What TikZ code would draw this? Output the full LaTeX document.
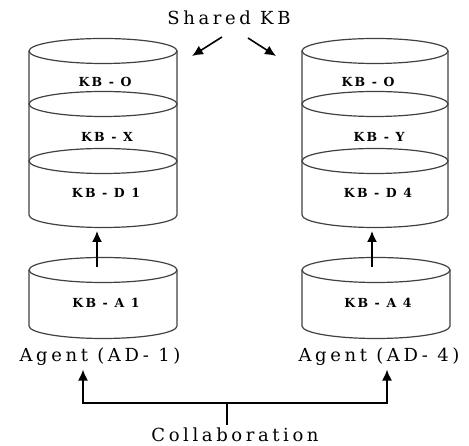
\documentclass[tikz,border=0pt]{standalone}
\usepackage{fontspec}
\setmainfont{DejaVu Serif}[LetterSpace=20]
\newfontfamily\kbfont{DejaVu Serif}[LetterSpace=18]
\usetikzlibrary{arrows.meta,positioning}

\begin{document}
\begin{tikzpicture}[x=1pt,y=1pt,>={Latex[length=11pt,width=10pt]},
    kbline/.style={draw=black!75,line width=1.2pt},
    kblabel/.style={anchor=base,font=\kbfont\fontsize{12.5}{15}\selectfont\bfseries},
    agent/.style={anchor=base,font=\fontsize{18}{22}\selectfont},
    link/.style={->,line width=1.6pt}]

    \useasboundingbox (0,0) rectangle (469,446);

    % left shared stack
    \draw[kbline] (29,395) -- (29,231) arc[start angle=180,end angle=360,x radius=74,y radius=12.5] -- (177,395);
    \foreach \y in {395,342,285}
        \draw[kbline] (103,\y) ellipse[x radius=74,y radius=12.5];

    % right shared stack
    \draw[kbline] (302,395) -- (302,231) arc[start angle=180,end angle=360,x radius=73,y radius=12.5] -- (448,395);
    \foreach \y in {395,342,285}
        \draw[kbline] (375,\y) ellipse[x radius=73,y radius=12.5];

    % agent KBs
    \draw[kbline] (29,176) -- (29,120) arc[start angle=180,end angle=360,x radius=74,y radius=12.5] -- (177,176);
    \draw[kbline] (103,176) ellipse[x radius=74,y radius=12.5];
    \draw[kbline] (302,176) -- (302,120) arc[start angle=180,end angle=360,x radius=74,y radius=12.5] -- (450,176);
    \draw[kbline] (376,176) ellipse[x radius=74,y radius=12.5];

    \node[kblabel] (o1) at (105,359) {KB - O};
    \node[kblabel] (x1) at (107,304) {KB - X};
    \node[kblabel] (d1) at (106,248) {KB - D 1};
    \node[kblabel] (a1) at (106,138) {KB - A 1};

    \node[kblabel] (o4) at (368,359) {KB - O};
    \node[kblabel] (y4) at (379,304) {KB - Y};
    \node[kblabel] (d4) at (378,248) {KB - D 4};
    \node[kblabel] (a4) at (378,138) {KB - A 4};

    \node[agent] (agent1) at (100,84) {Agent (AD- 1)};
    \node[agent] (agent4) at (379,84) {Agent (AD- 4)};
    \node[agent] (shared) at (229,421) {Shared KB};
    \node[agent] (collab) at (235,4) {Collaboration};

    \coordinate (a1top) at (97,179);
    \coordinate (d1bot) at (97,215);
    \coordinate (a4top) at (372,179);
    \coordinate (d4bot) at (372,215);
    \coordinate (hub) at (227,43);

    \draw[link] (a1top) -- (d1bot);
    \draw[link] (a4top) -- (d4bot);

    \draw[link] ([shift={(-7,-12)}]shared.base) -- ++(-30,-19);
    \draw[link] ([shift={(19,-13)}]shared.base) -- ++(28,-18);

    \draw[line width=1.6pt] (hub |- collab.north) -- (hub);
    \draw[link] (hub) -| ([xshift=-17pt]agent1.south);
    \draw[link] (hub) -| ([xshift=8pt]agent4.south);
\end{tikzpicture}
\end{document}
